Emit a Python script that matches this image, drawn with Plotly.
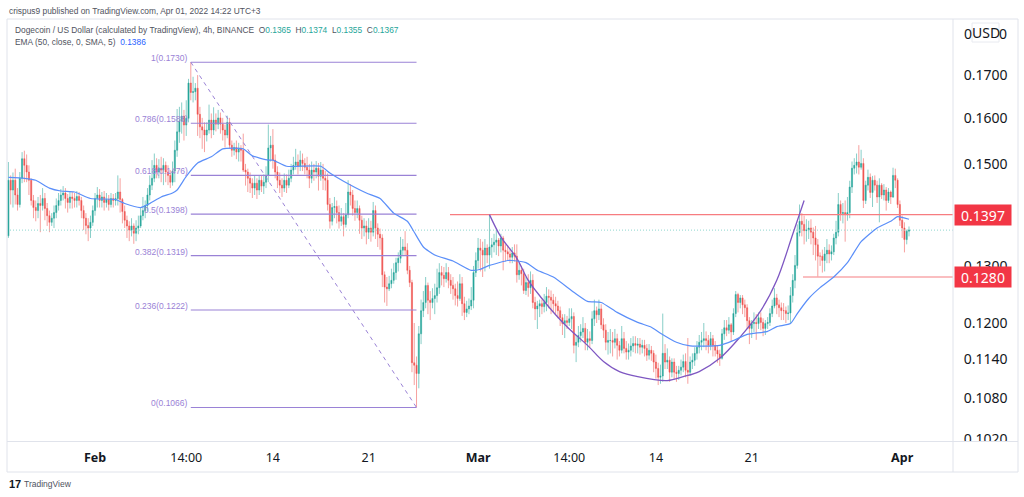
import math
import pandas as pd
import plotly.graph_objects as go

opens = [
1356,1466,1446,1466,1436,1417,1470,1511,1497,1483,
1466,1425,1411,1405,1419,1415,1429,1409,1395,1382,
1390,1401,1415,1425,1436,1440,1429,1421,1432,1429,
1425,1433,1425,1405,1390,1376,1371,1382,1405,1429,
1436,1425,1432,1421,1427,1417,1429,1425,1429,1442,
1427,1403,1386,1375,1367,1375,1361,1371,1375,1395,
1405,1415,1436,1456,1470,1497,1483,1491,1487,1497,
1483,1476,1462,1485,1529,1569,1593,1604,1584,1599,
1680,1658,1660,1668,1608,1580,1573,1562,1573,1595,
1573,1595,1586,1600,1586,1573,1562,1590,1540,1529,
1535,1525,1533,1529,1487,1483,1470,1460,1450,1460,
1446,1466,1454,1462,1476,1534,1540,1508,1483,1466,
1456,1450,1466,1456,1470,1487,1497,1504,1495,1508,
1501,1493,1487,1470,1487,1483,1491,1474,1487,1470,
1466,1417,1384,1411,1413,1401,1384,1393,1378,1397,
1442,1436,1409,1401,1409,1386,1371,1375,1363,1371,
1363,1405,1371,1359,1352,1284,1262,1259,1268,1274,
1288,1306,1314,1329,1335,1329,1292,1270,1135,1131,
1118,1182,1221,1235,1265,1239,1235,1242,1247,1261,
1288,1283,1277,1288,1274,1265,1259,1247,1242,1268,
1233,1218,1224,1229,1239,1288,1310,1333,1329,1320,
1333,1320,1335,1339,1344,1348,1337,1352,1329,1326,
1322,1316,1324,1318,1284,1292,1286,1256,1270,1261,
1274,1235,1224,1229,1233,1228,1235,1246,1244,1239,
1233,1229,1221,1209,1199,1204,1201,1207,1211,1163,
1168,1179,1185,1191,1168,1174,1171,1207,1221,1214,
1224,1197,1188,1168,1171,1171,1168,1174,1163,1155,
1174,1158,1152,1155,1162,1166,1163,1165,1160,1163,
1158,1147,1155,1150,1136,1126,1112,1114,1150,1136,
1139,1120,1136,1120,1118,1123,1128,1137,1123,1120,
1136,1139,1150,1160,1168,1171,1174,1171,1163,1174,
1163,1155,1149,1142,1182,1192,1188,1197,1185,1216,
1249,1235,1243,1231,1226,1204,1191,1199,1201,1199,
1209,1201,1191,1199,1201,1216,1229,1243,1231,1226,
1221,1221,1216,1217,1247,1274,1301,1362,1384,1378,
1366,1367,1371,1363,1352,1339,1318,1318,1310,1322,
1329,1322,1326,1352,1363,1417,1399,1401,1397,1401,
1452,1491,1497,1504,1493,1501,1425,1456,1472,1441,
1466,1456,1432,1456,1436,1446,1425,1442,1432,1476,
1466,1417,1386,1371,1349,1365]
highs = [
1504,1476,1482,1490,1450,1483,1525,1528,1520,1497,
1470,1436,1425,1432,1436,1450,1440,1420,1405,1400,
1415,1429,1440,1448,1454,1450,1438,1444,1442,1440,
1444,1442,1432,1415,1400,1390,1395,1415,1440,1452,
1448,1442,1444,1440,1436,1440,1438,1440,1476,1470,
1430,1415,1395,1384,1390,1380,1386,1395,1411,1432,
1425,1450,1476,1508,1522,1512,1510,1515,1512,1505,
1497,1487,1505,1550,1620,1625,1635,1618,1640,1690,
1730,1695,1680,1699,1625,1600,1590,1590,1630,1610,
1624,1610,1618,1612,1600,1585,1605,1600,1550,1545,
1550,1545,1540,1565,1500,1490,1482,1470,1476,1470,
1476,1475,1478,1495,1585,1560,1575,1520,1495,1482,
1470,1480,1478,1488,1500,1515,1532,1520,1528,1522,
1512,1515,1500,1505,1500,1506,1502,1504,1500,1485,
1480,1430,1420,1432,1425,1415,1410,1400,1420,1466,
1458,1446,1425,1425,1415,1395,1390,1385,1390,1385,
1422,1415,1380,1370,1359,1290,1280,1282,1295,1305,
1315,1325,1354,1350,1365,1342,1300,1275,1200,1145,
1195,1240,1255,1280,1270,1255,1260,1268,1295,1305,
1300,1298,1305,1298,1285,1280,1268,1272,1285,1280,
1245,1238,1242,1262,1300,1325,1352,1350,1345,1350,
1340,1397,1352,1360,1368,1352,1360,1356,1340,1338,
1332,1335,1340,1340,1305,1300,1295,1280,1285,1290,
1285,1245,1238,1240,1240,1250,1262,1258,1256,1250,
1245,1238,1228,1215,1215,1212,1225,1225,1218,1180,
1195,1198,1210,1200,1190,1186,1220,1240,1228,1240,
1232,1208,1198,1185,1190,1185,1190,1182,1170,1195,
1185,1170,1166,1175,1178,1178,1175,1175,1172,1172,
1165,1165,1162,1155,1148,1135,1132,1216,1165,1158,
1145,1142,1142,1130,1130,1140,1148,1150,1175,1145,
1150,1160,1170,1180,1185,1200,1186,1180,1185,1180,
1170,1162,1156,1190,1205,1205,1210,1200,1225,1255,
1252,1248,1248,1240,1232,1210,1205,1218,1215,1218,
1218,1208,1205,1210,1225,1240,1260,1250,1240,1235,
1234,1228,1230,1262,1285,1320,1378,1417,1400,1395,
1388,1385,1388,1372,1375,1350,1325,1330,1335,1350,
1340,1338,1360,1385,1440,1425,1420,1425,1432,1465,
1505,1512,1522,1540,1530,1512,1465,1488,1480,1475,
1476,1465,1470,1460,1458,1452,1450,1445,1492,1490,
1470,1425,1395,1382,1368,1374]
lows = [
1352,1417,1411,1417,1405,1411,1460,1462,1462,1436,
1415,1390,1384,1390,1363,1405,1386,1375,1363,1375,
1371,1390,1405,1415,1425,1409,1401,1409,1409,1411,
1411,1415,1390,1367,1359,1346,1352,1375,1395,1411,
1411,1411,1405,1411,1405,1411,1411,1415,1415,1401,
1380,1371,1352,1346,1355,1341,1346,1359,1371,1386,
1390,1403,1425,1446,1462,1470,1470,1462,1456,1462,
1456,1450,1455,1462,1515,1545,1565,1550,1560,1590,
1640,1635,1640,1560,1555,1532,1525,1548,1565,1555,
1562,1570,1575,1565,1550,1535,1555,1532,1515,1518,
1510,1505,1505,1483,1455,1442,1440,1430,1436,1428,
1436,1442,1438,1450,1462,1505,1490,1470,1450,1440,
1432,1442,1440,1450,1462,1478,1488,1478,1485,1485,
1478,1470,1450,1460,1465,1470,1445,1465,1446,1445,
1405,1370,1376,1390,1380,1370,1375,1355,1372,1390,
1415,1395,1385,1390,1360,1350,1355,1340,1350,1345,
1355,1350,1335,1330,1262,1235,1229,1255,1260,1268,
1275,1290,1305,1318,1320,1285,1262,1120,1100,1066,
1095,1165,1210,1225,1215,1205,1225,1215,1235,1250,
1265,1262,1270,1260,1250,1240,1230,1228,1238,1212,
1205,1210,1215,1222,1225,1280,1295,1290,1280,1290,
1305,1295,1315,1325,1320,1318,1325,1292,1308,1310,
1305,1305,1308,1270,1275,1265,1250,1248,1245,1250,
1225,1205,1190,1210,1215,1218,1220,1225,1215,1218,
1215,1208,1195,1180,1175,1190,1195,1190,1150,1136,
1160,1168,1175,1155,1155,1160,1165,1195,1200,1205,
1190,1175,1155,1148,1150,1145,1158,1140,1145,1150,
1150,1140,1140,1145,1152,1150,1150,1148,1150,1145,
1138,1140,1138,1120,1110,1100,1102,1105,1125,1125,
1105,1112,1108,1105,1108,1115,1120,1112,1102,1115,
1125,1130,1140,1150,1155,1160,1155,1150,1155,1145,
1145,1135,1130,1140,1172,1178,1182,1170,1180,1210,
1218,1225,1215,1210,1190,1165,1175,1185,1172,1190,
1188,1178,1180,1190,1195,1210,1225,1215,1210,1205,
1205,1200,1205,1200,1235,1260,1295,1355,1355,1340,
1345,1350,1340,1320,1310,1280,1300,1288,1290,1305,
1305,1310,1320,1340,1355,1385,1380,1345,1385,1390,
1440,1478,1480,1478,1488,1410,1418,1445,1430,1412,
1445,1420,1382,1428,1425,1405,1420,1418,1430,1450,
1410,1375,1352,1325,1340,1355]
closes = [
1466,1446,1466,1436,1417,1470,1511,1497,1483,1466,
1425,1411,1405,1419,1415,1429,1409,1395,1382,1390,
1401,1415,1425,1436,1440,1429,1421,1432,1429,1425,
1433,1425,1405,1390,1376,1371,1382,1405,1429,1436,
1425,1432,1421,1427,1417,1429,1425,1429,1442,1427,
1403,1386,1375,1367,1375,1361,1371,1375,1395,1405,
1415,1436,1456,1470,1497,1483,1491,1487,1497,1483,
1476,1462,1485,1529,1569,1593,1604,1584,1599,1680,
1658,1660,1668,1608,1580,1573,1562,1573,1595,1573,
1595,1586,1600,1586,1573,1562,1590,1540,1529,1535,
1525,1533,1529,1487,1483,1470,1460,1450,1460,1446,
1466,1454,1462,1476,1534,1540,1508,1483,1466,1456,
1450,1466,1456,1470,1487,1497,1504,1495,1508,1501,
1493,1487,1470,1487,1483,1491,1474,1487,1470,1466,
1417,1384,1411,1413,1401,1384,1393,1378,1397,1442,
1436,1409,1401,1409,1386,1371,1375,1363,1371,1363,
1405,1371,1359,1352,1284,1262,1259,1268,1274,1288,
1306,1314,1329,1335,1329,1292,1270,1135,1131,1118,
1182,1221,1235,1265,1239,1235,1242,1247,1261,1288,
1283,1277,1288,1274,1265,1259,1247,1242,1268,1233,
1218,1224,1229,1239,1288,1310,1333,1329,1320,1333,
1320,1335,1339,1344,1348,1337,1352,1329,1326,1322,
1316,1324,1318,1284,1292,1286,1256,1270,1261,1274,
1235,1224,1229,1233,1228,1235,1246,1244,1239,1233,
1229,1221,1209,1199,1204,1201,1207,1211,1163,1168,
1179,1185,1191,1168,1174,1171,1207,1221,1214,1224,
1197,1188,1168,1171,1171,1168,1174,1163,1155,1174,
1158,1152,1155,1162,1166,1163,1165,1160,1163,1158,
1147,1155,1150,1136,1126,1112,1114,1150,1136,1139,
1120,1136,1120,1118,1123,1128,1137,1123,1120,1136,
1139,1150,1160,1168,1171,1174,1171,1163,1174,1163,
1155,1149,1142,1182,1192,1188,1197,1185,1216,1249,
1235,1243,1231,1226,1204,1191,1199,1201,1199,1209,
1201,1191,1199,1201,1216,1229,1243,1231,1226,1221,
1221,1216,1217,1247,1274,1301,1362,1384,1378,1366,
1367,1371,1363,1352,1339,1318,1318,1310,1322,1329,
1322,1326,1352,1363,1417,1399,1401,1397,1401,1452,
1491,1497,1504,1493,1501,1425,1456,1472,1441,1466,
1456,1432,1456,1436,1446,1425,1442,1432,1476,1466,
1417,1386,1371,1349,1365,1367]

ema_idx = [0,7,12,18,23,29,36,47,51,58,62,67,72,74,78,83,89,94,103,107,114,116,122,137,141,147,157,163,169,175,178,182,187,195,203,207,211,219,221,227,232,239,248,254,260,267,276,282,286,293,299,312,318,324,333,337,343,346,351,356,362,368,374,381,387,390,395]
ema_val = [1472,1470,1466,1450,1444,1442,1429,1427,1419,1411,1419,1432,1440,1446,1474,1502,1515,1532,1532,1517,1508,1508,1495,1495,1481,1464,1440,1429,1400,1384,1363,1335,1320,1309,1292,1294,1301,1310,1310,1306,1292,1280,1253,1237,1235,1218,1201,1193,1183,1168,1162,1163,1171,1181,1186,1194,1199,1216,1242,1261,1280,1306,1345,1371,1384,1393,1388]

cup_idx = [211,216,223,228,234,240,246,254,261,268,276,289,296,303,312,321,330,337,344,349]
cup_val = [1397,1354,1314,1274,1242,1214,1190,1163,1137,1121,1113,1107,1113,1121,1142,1177,1221,1274,1359,1425]

fib_labels = ["1(0.1730)","0.786(0.1588)","0.618(0.1476)","0.5(0.1398)","0.382(0.1319)","0.236(0.1222)","0(0.1066)"]
fib_values = [0.1730,0.1588,0.1476,0.1398,0.1319,0.1222,0.1066]

y_ticks = [0.1020,0.1080,0.1140,0.1200,0.1300,0.1500,0.1600,0.1700]
y_tick_text = ["0.1020","0.1080","0.1140","0.1200","0.1300","0.1500","0.1600","0.1700"]
x_ticks = ["2022-02-01","2022-02-07 16:00","2022-02-14","2022-02-21","2022-03-01","2022-03-07 16:00","2022-03-14","2022-03-21","2022-04-01"]
x_tick_text = ["<b>Feb</b>","14:00","14","21","<b>Mar</b>","14:00","14","21","<b>Apr</b>"]

FONT = "Noto Sans"
SMALL = "Liberation Sans"
PURPLE = "#9a82d6"
RED = "#f23645"
dates = pd.date_range("2022-01-25 16:00", periods=len(closes), freq="4h")
scale = lambda a: [v / 10000 for v in a]
px = lambda x: (x - 7) / 946
py = lambda y: (441 - y) / 422
dx = lambda i: dates[i]
x_at = lambda x: dates[0] + pd.Timedelta(hours=4 * (x - 8.4) / 2.28)

fig = go.Figure()
fig.add_trace(go.Candlestick(
    x=dates, open=scale(opens), high=scale(highs), low=scale(lows), close=scale(closes),
    increasing=dict(line=dict(color="rgba(38,166,154,0.55)", width=1), fillcolor="#26a69a"),
    decreasing=dict(line=dict(color="rgba(239,83,80,0.55)", width=1), fillcolor="#ef5350"),
    whiskerwidth=0, showlegend=False))

# last-price dotted line
fig.add_trace(go.Scatter(x=[x_at(7), x_at(953)], y=[0.1367, 0.1367], mode="lines",
                         line=dict(color="#8fd6cf", width=1, dash="1px,2px"), showlegend=False))
# fibonacci levels
for v in fib_values:
    fig.add_trace(go.Scatter(x=[dx(80), dx(179)], y=[v, v], mode="lines",
                             line=dict(color=PURPLE, width=1.1), showlegend=False))
fig.add_trace(go.Scatter(x=[dx(80), dx(179)], y=[0.1730, 0.1066], mode="lines",
                         line=dict(color=PURPLE, width=1, dash="4px,4px"), showlegend=False))
# support / resistance
fig.add_trace(go.Scatter(x=[x_at(450), x_at(953)], y=[0.1397, 0.1397], mode="lines",
                         line=dict(color="#f77c80", width=1.3), showlegend=False))
fig.add_trace(go.Scatter(x=[x_at(803), x_at(953)], y=[0.1280, 0.1280], mode="lines",
                         line=dict(color="#f9a9ab", width=1.6), showlegend=False))
# cup
fig.add_trace(go.Scatter(x=[dx(i) for i in cup_idx], y=scale(cup_val), mode="lines",
                         line=dict(color="#7e57c2", width=1.3, shape="spline"), showlegend=False))
# EMA
fig.add_trace(go.Scatter(x=[dx(i) for i in ema_idx], y=scale(ema_val), mode="lines",
                         line=dict(color="#5b8ff9", width=1.2, shape="spline", smoothing=0.5), showlegend=False))

ann = []
for lab, v in zip(fib_labels, fib_values):
    ann.append(dict(x=dx(80), y=math.log10(v), xref="x", yref="y", text=lab, showarrow=False,
                    xanchor="right", yanchor="middle", xshift=-1, yshift=4,
                    font=dict(family=SMALL, size=8.5, color=PURPLE)))
for v, t in [(0.1397, "0.1397"), (0.1280, "0.1280")]:
    ann.append(dict(x=px(983), y=math.log10(v), xref="paper", yref="y", text=t, showarrow=False,
                    xanchor="center", yanchor="middle", bgcolor=RED, width=54, height=18,
                    font=dict(family=FONT, size=14, color="white")))


def text(x, y, s, size=8.4, color="#50535e", anchor="left", family=SMALL):
    ann.append(dict(x=px(x), y=py(y), xref="paper", yref="paper", text=s, showarrow=False,
                    xanchor=anchor, yanchor="middle", font=dict(family=family, size=size, color=color)))


T = "#26a69a"
text(7, 11, "crispus9 published on TradingView.com, Apr 01, 2022 14:22 UTC+3")
text(13, 30, "Dogecoin / US Dollar (calculated by TradingView), 4h, BINANCE  "
     f"O<span style='color:{T}'>0.1365</span>  H<span style='color:{T}'>0.1374</span>  "
     f"L<span style='color:{T}'>0.1355</span>  C<span style='color:{T}'>0.1367</span>")
text(13, 42, "EMA (50, close, 0, SMA, 5)  <span style='color:#2962ff'>0.1386</span>")
text(968, 33, "0", 14, "#131722", "center", FONT)
text(1003, 33, "0", 14, "#131722", "center", FONT)
text(985.5, 32.5, "USD", 14, "#131722", "center", FONT)
text(7, 484, "<b>17</b>", 11, "#131722")
text(22, 484, "TradingView", 8.5, "#50535e")

BORDER = "#e0e3eb"
shapes = [
    dict(type="rect", xref="paper", yref="paper", x0=px(954), x1=px(1017), y0=py(442), y1=py(471),
         fillcolor="white", line=dict(width=0), layer="above"),
    dict(type="rect", xref="paper", yref="paper", x0=px(7), x1=px(1018), y0=py(19), y1=py(472),
         line=dict(color=BORDER, width=1)),
    dict(type="line", xref="paper", yref="paper", x0=px(953), x1=px(953), y0=py(19), y1=py(472),
         line=dict(color=BORDER, width=1)),
    dict(type="line", xref="paper", yref="paper", x0=px(7), x1=px(1018), y0=py(441.5), y1=py(441.5),
         line=dict(color=BORDER, width=1)),
    dict(type="rect", xref="paper", yref="paper", x0=px(972), x1=px(999), y0=py(23), y1=py(42),
         line=dict(color="#e8eaf0", width=1), fillcolor="white", layer="above"),
]

fig.update_layout(
    width=1024, height=497, margin=dict(l=7, r=71, t=19, b=56),
    paper_bgcolor="white", plot_bgcolor="white", showlegend=False,
    annotations=ann, shapes=shapes, hovermode=False,
    xaxis=dict(type="date", range=[x_at(7), x_at(953)], rangeslider=dict(visible=False),
               tickmode="array", tickvals=x_ticks, ticktext=x_tick_text, showgrid=False, zeroline=False,
               showline=False, ticks="outside", ticklen=5, tickcolor="rgba(0,0,0,0)",
               tickfont=dict(family=FONT, size=12.5, color="#131722")),
    yaxis=dict(type="log", side="right", range=[math.log10(0.1017), math.log10(0.1838)],
               tickmode="array", tickvals=y_ticks, ticktext=y_tick_text, showgrid=False, zeroline=False,
               showline=False, ticks="outside", ticklen=7, tickcolor="rgba(0,0,0,0)",
               tickfont=dict(family=FONT, size=14, color="#131722")),
)
fig.write_html("out.html", config=dict(displayModeBar=False),
               post_script="document.body.style.margin='0';document.body.style.overflow='hidden';")
